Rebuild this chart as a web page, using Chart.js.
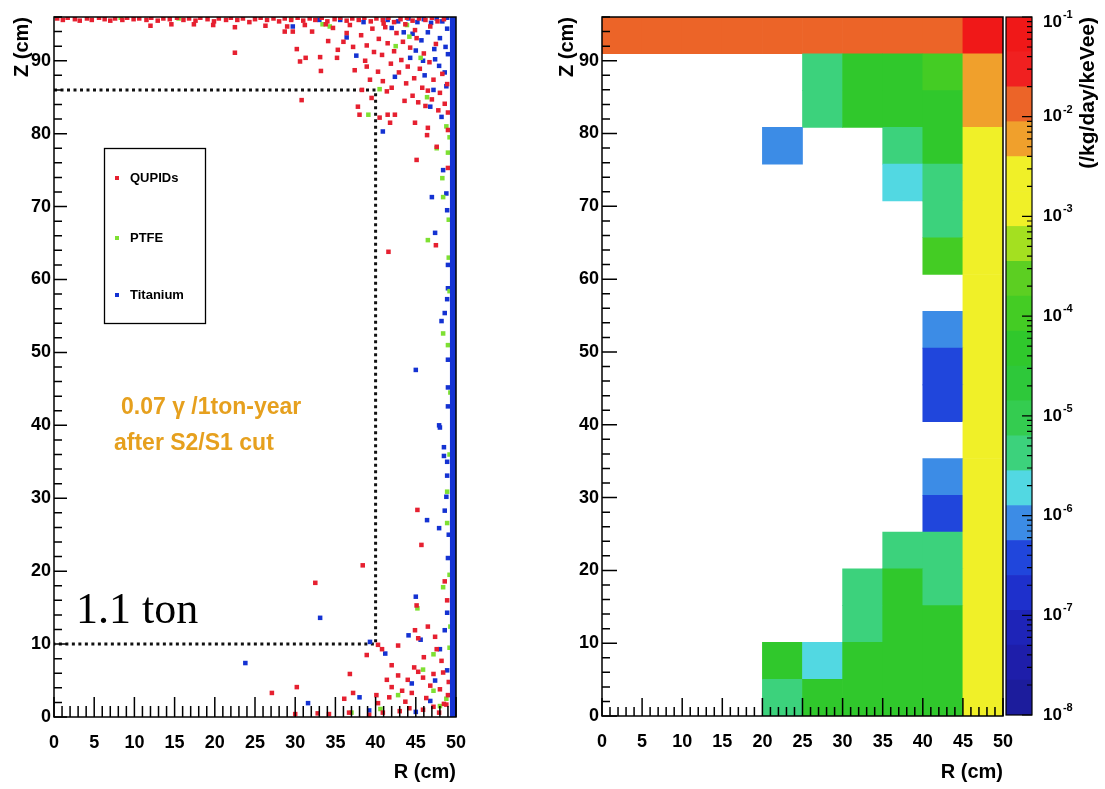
<!DOCTYPE html>
<html>
<head>
<meta charset="utf-8">
<script src="https://cdn.jsdelivr.net/npm/chart.js@4.4.0/dist/chart.umd.min.js"></script>
<style>
  html, body { margin: 0; padding: 0; background: #fff; }
  body { width: 1105px; height: 789px; position: relative; overflow: hidden; }
  canvas { position: absolute; top: 0; }
  #left { left: 0; }
  #right { left: 545px; }
  #scale { left: 990px; }
</style>
</head>
<body>
<canvas id="left" width="545" height="789"></canvas>
<canvas id="right" width="560" height="789"></canvas>
<canvas id="scale" width="115" height="789"></canvas>
<script>
// ---- left panel: gamma events surviving the S2/S1 cut, [R (cm), Z (cm)] ----
const qupidPts = [
  // top edge
  [0.4,95.8],[1.1,95.6],[1.7,95.9],[2.6,95.7],[3.2,95.5],[4.1,95.8],[4.7,95.6],[5.6,95.9],[6.3,95.7],[7.0,95.5],
  [7.6,95.8],[8.5,95.6],[9.1,95.9],[9.9,95.7],[10.6,95.8],[11.5,95.6],[12.1,95.9],[12.9,95.5],[13.6,95.8],[14.6,95.0],
  [14.4,95.7],[15.3,95.9],[16.1,95.6],[16.8,95.8],[17.6,95.5],[18.2,95.9],[19.1,95.7],[19.9,95.4],[20.5,95.8],[21.4,95.6],
  [22.0,95.9],[22.8,95.6],[23.5,95.8],[24.3,95.3],[25.0,95.7],[25.7,95.9],[26.5,95.6],[27.3,95.8],[28.0,95.4],[28.7,95.8],
  [29.5,95.6],[30.3,95.9],[31.0,95.5],[31.8,95.8],[32.5,95.6],[33.3,95.9],[34.0,95.4],[34.9,95.7],[35.6,95.9],[36.4,95.5],
  [37.1,95.8],[37.9,95.6],[38.6,95.9],[39.4,95.4],[40.1,95.8],[40.9,95.6],[41.6,95.9],[42.3,95.3],[43.1,95.7],[43.9,95.9],
  [44.6,95.5],[45.4,95.8],[46.2,95.6],[47.0,95.9],[47.7,95.4],[48.5,95.7],
  [12.0,94.8],[17.4,95.0],[19.8,94.9],[22.5,94.6],[26.3,94.8],[29.0,94.7],[31.2,94.9],[33.8,95.0],
  // upper corner
  [22.5,91.1],[28.7,94.0],[29.7,94.0],[30.2,91.6],[30.6,89.9],[31.3,90.4],[30.8,84.6],[33.1,90.5],[33.2,88.6],[32.1,94.0],
  [34.1,92.7],[34.7,94.5],[35.3,91.5],[35.2,90.4],[36.4,93.8],[36.0,92.6],[37.4,88.7],[37.8,83.7],[38.0,82.6],[38.3,86.0],
  [39.3,87.4],[38.9,89.2],[38.7,90.0],[40.3,88.5],[40.5,82.2],[41.5,82.6],[42.4,82.6],[41.8,81.5],[41.4,85.8],[44.9,81.5],
  [45.1,76.4],[46.5,80.8],[46.4,79.8],[47.6,78.2],[49.0,80.5],[49.0,75.3],[41.6,63.8],[47.5,64.7],
  [38.2,93.5],[38.9,92.1],[39.6,94.4],[39.8,91.2],[40.4,93.0],[40.8,90.8],[41.2,94.6],[41.5,92.4],[41.9,89.6],[42.3,91.3],
  [42.6,93.8],[42.9,88.4],[43.2,90.1],[43.4,92.6],[43.8,86.9],[44.0,89.2],[44.3,91.8],[44.6,85.2],[44.8,87.6],[45.1,93.1],
  [45.3,84.3],[45.5,88.9],[45.8,86.3],[46.0,91.0],[46.2,83.8],[46.5,85.9],[46.7,89.8],[47.0,84.7],[47.2,87.4],[47.5,92.3],
  [47.8,83.2],[48.0,85.6],[48.3,88.2],[48.6,84.1],[48.9,86.8],[49.0,82.9],[43.6,84.5],[42.0,86.3],[39.5,84.9],[40.9,87.2],
  [37.2,91.9],[36.8,94.9],[44.9,94.2],[46.8,94.7],[43.7,95.0],[41.0,95.1],
  // middle and bottom
  [45.2,28.4],[45.7,23.6],[38.4,20.8],[48.6,18.6],[32.5,18.4],[48.9,16.0],[45.1,15.3],[44.9,11.9],[46.5,12.4],[47.4,11.0],
  [45.3,10.8],[42.8,9.8],[40.3,9.9],[40.8,9.3],[38.9,8.5],[41.4,5.1],[42.0,7.1],[36.8,5.9],[42.0,4.1],[42.8,5.7],
  [44.0,5.1],[44.8,6.8],[45.3,6.2],[45.9,5.4],[44.5,3.3],[43.7,2.1],[47.6,9.3],[48.2,7.7],[47.2,5.9],[46.8,4.3],
  [48.0,3.8],[49.0,3.0],[48.5,1.8],[27.1,3.3],[30.2,4.1],[37.2,3.3],[36.1,2.5],[40.1,3.0],[40.3,1.9],[40.9,0.6],
  [30.0,0.4],[34.2,0.4],[36.7,0.6],[43.0,0.8],[45.9,1.0],[47.2,1.4],[48.8,1.7],[44.2,1.2],[46.3,2.6],[47.9,0.6],
  [49.1,4.8],[48.4,6.1],[46.0,8.2],[43.3,3.6],[41.7,2.7],[39.2,0.3],[32.8,0.5]
];
const ptfePts = [
  [34.3,94.7],[33.4,95.0],[39.1,82.6],[40.5,86.1],[43.9,94.9],[44.2,93.3],[46.4,85.0],[47.6,78.0],[48.3,73.9],[48.4,71.3],
  [46.5,65.4],[49.0,77.4],[49.2,79.5],[48.8,81.0],[48.4,52.6],[49.0,51.0],[48.9,30.9],[48.9,26.6],[49.2,19.5],[45.2,14.9],
  [48.4,17.8],[47.2,8.6],[45.9,6.5],[42.8,3.0],[47.2,3.6],[37.0,0.6],[40.6,1.1],[48.8,2.5],[48.0,1.5],
  [49.2,58.4],[49.1,63.0],[49.3,44.5],[49.2,36.0],[49.3,12.4],[49.2,9.5],[49.1,68.2],
  [8.3,95.9],[15.5,95.8],[29.5,95.8],[42.5,92.0],[45.6,90.4]
];
const titaniumPts = [
  [29.7,94.7],[36.4,93.2],[37.6,90.7],[40.9,80.3],[42.4,87.8],[44.3,90.4],[45.9,90.0],[47.2,86.0],[46.8,83.7],[48.2,82.3],
  [48.4,75.0],[47.0,71.3],[48.8,71.8],[47.4,66.4],[48.9,69.5],
  [45.0,47.6],[48.6,55.4],[48.2,54.3],[49.0,49.0],[47.9,40.0],[48.0,39.7],[48.5,37.0],[48.5,35.8],[48.9,35.0],[48.8,30.2],
  [48.6,28.3],[46.4,27.0],[47.9,25.9],[49.1,25.0],[45.0,16.5],
  [23.8,7.4],[33.1,13.6],[44.1,11.2],[45.6,10.6],[41.2,8.7],[39.3,10.3],[38.0,2.7],[31.6,1.9],[44.5,4.6],[46.8,2.2],
  [45.0,0.7],[47.4,5.0],[39.2,0.9],[48.0,9.3],[48.6,11.9],[48.9,6.4],
  [41.5,95.6],[42.8,95.4],[44.1,95.8],[45.2,95.3],[46.0,95.7],[46.9,95.2],[47.6,95.8],[48.3,95.4],[48.9,95.9],[44.6,93.7],
  [45.7,92.8],[46.5,93.9],[47.3,91.6],[48.0,93.1],[48.7,91.9],[48.9,94.4],[47.9,89.3],[48.6,88.4],[49.0,90.9],[48.8,86.5],
  [46.1,88.0],[47.4,90.2],[45.0,91.4],[43.5,93.9],[42.0,94.5],[38.5,95.3],[35.6,95.6],[33.0,95.6],
  [49.0,62.0],[48.9,57.3],[49.0,45.2],[49.0,42.6],[48.9,33.1],[49.0,21.8],[48.9,14.3],[49.0,58.8]
];
// events piled up on the titanium vessel wall (saturated band)
const titaniumWallR = [49.62, 49.62];
const titaniumWallZ = [0, 96];
// 1.1 ton fiducial volume
const fiducialR = [0, 40, 40, 0];
const fiducialZ = [86, 86, 10, 10];

// ---- right panel: rate map (/kg/day/keVee) ----
const rBinLabels = ['0-5', '5-10', '10-15', '15-20', '20-25', '25-30', '30-35', '35-40', '40-45', '45-50'];
const zMax = 96;
const zBins = 19;
const zEdges = Array.from({ length: zBins + 1 }, (_, k) => k * zMax / zBins);
// row 0 = lowest Z bin; columns follow rBinLabels
const rateRows = [
  [null, null, null, null, 4e-6, 5e-5, 5e-5, 6e-5, 6e-5, 2.2e-3],
  [null, null, null, null, 5e-5, 2e-6, 5e-5, 6e-5, 5e-5, 2.2e-3],
  [null, null, null, null, null, null, 4e-6, 6e-5, 5e-5, 2.2e-3],
  [null, null, null, null, null, null, 4e-6, 5e-5, 4e-6, 2.2e-3],
  [null, null, null, null, null, null, null, 4e-6, 4e-6, 2.2e-3],
  [null, null, null, null, null, null, null, null, 4e-7, 2.2e-3],
  [null, null, null, null, null, null, null, null, 8e-7, 2.2e-3],
  [null, null, null, null, null, null, null, null, null, 2.2e-3],
  [null, null, null, null, null, null, null, null, 4e-7, 2.2e-3],
  [null, null, null, null, null, null, null, null, 4e-7, 2.2e-3],
  [null, null, null, null, null, null, null, null, 8e-7, 2.2e-3],
  [null, null, null, null, null, null, null, null, null, 2.2e-3],
  [null, null, null, null, null, null, null, null, 1e-4, 2.2e-3],
  [null, null, null, null, null, null, null, null, 4.5e-6, 2.2e-3],
  [null, null, null, null, null, null, null, 2e-6, 4e-6, 2.2e-3],
  [null, null, null, null, 8e-7, null, null, 4e-6, 5e-5, 2.2e-3],
  [null, null, null, null, null, 4.5e-6, 5e-5, 4e-5, 6e-5, 5.5e-3],
  [null, null, null, null, null, 4.5e-6, 5e-5, 5e-5, 1.3e-4, 6e-3],
  [0.013, 0.012, 0.013, 0.014, 0.013, 0.015, 0.014, 0.016, 0.017, 0.055]
];
// contour levels (log10) and their colours
const paletteExp = [-8, -7.65, -7.3, -6.95, -6.6, -6.25, -5.9, -5.55, -5.2, -4.85, -4.5,
  -4.15, -3.8, -3.45, -3.1, -2.75, -2.4, -2.05, -1.7, -1.35, -1];
const paletteColors = ['#1c1c9c', '#1e1eaa', '#1e24b8', '#1e30cc', '#2046dc', '#3c8ce6', '#52d8e2',
  '#3cd27c', '#34cc50', '#2ec83a', '#30c82c', '#44cc24', '#5ccf22', '#a4e020', '#f0f028', '#f0f028',
  '#f0a02c', '#ec6428', '#f02020', '#f01818'];
const colorTicksExp = [-8, -7, -6, -5, -4, -3, -2, -1];

Chart.defaults.font.family = '"Liberation Sans", Arial, sans-serif';
Chart.defaults.color = '#000';

function toXY(pts) {
  return pts.map(p => ({ x: p[0], y: p[1] }));
}

function rateColor(v) {
  const e = Math.log10(v);
  for (let k = 0; k < paletteColors.length; k++) {
    if (e < paletteExp[k + 1]) return paletteColors[k];
  }
  return paletteColors[paletteColors.length - 1];
}

// frame + ROOT style inward ticks
const frameTicks = {
  id: 'frameTicks',
  afterDatasetsDraw(chart, args, o) {
    const { ctx, chartArea: a } = chart;
    const xs = chart.scales[o.xId], ys = chart.scales.y;
    ctx.save();
    ctx.strokeStyle = '#000';
    ctx.lineWidth = 1.5;
    ctx.strokeRect(a.left, a.top, a.right - a.left, a.bottom - a.top);
    ctx.beginPath();
    for (let v = xs.min; v <= xs.max; v += 1) {
      const px = xs.getPixelForValue(v);
      const len = v % 5 === 0 ? o.xMajor : o.xMinor;
      ctx.moveTo(px, a.bottom);
      ctx.lineTo(px, a.bottom - len);
    }
    for (let v = ys.min; v <= ys.max; v += 2) {
      const py = ys.getPixelForValue(v);
      const len = v % 10 === 0 ? o.yMajor : o.yMinor;
      ctx.moveTo(a.left, py);
      ctx.lineTo(a.left + len, py);
    }
    ctx.stroke();
    ctx.restore();
  }
};

// legend box and labels of the left panel
const leftNotes = {
  id: 'leftNotes',
  afterDatasetsDraw(chart) {
    const { ctx } = chart;
    ctx.save();
    ctx.strokeStyle = '#000';
    ctx.lineWidth = 1.3;
    ctx.strokeRect(104.5, 148.5, 101, 175);
    const items = [['QUPIDs', '#e62030', 178], ['PTFE', '#7ee032', 238], ['Titanium', '#1432d2', 295]];
    ctx.font = 'bold 13px "Liberation Sans"';
    ctx.textBaseline = 'middle';
    items.forEach(([t, c, y]) => {
      ctx.fillStyle = c;
      ctx.fillRect(115, y - 2, 4, 4);
      ctx.fillStyle = '#000';
      ctx.fillText(t, 130, y);
    });
    ctx.fillStyle = '#e6a01e';
    ctx.font = 'bold 23px "Liberation Sans"';
    ctx.fillText('0.07 \u03b3 /1ton-year', 121, 408);
    ctx.fillText('after S2/S1 cut', 114, 444);
    ctx.fillStyle = '#000';
    ctx.font = '44px "Liberation Serif"';
    ctx.textBaseline = 'alphabetic';
    ctx.fillText('1.1 ton', 76, 623);
    ctx.restore();
  }
};

// colour scale frame, ticks, labels, title
const scaleDecor = {
  id: 'scaleDecor',
  afterDatasetsDraw(chart) {
    const { ctx, chartArea: a } = chart;
    const ys = chart.scales.y;
    ctx.save();
    ctx.strokeStyle = '#000';
    ctx.lineWidth = 1.2;
    ctx.strokeRect(a.left, a.top, a.right - a.left, a.bottom - a.top);
    ctx.beginPath();
    colorTicksExp.forEach(e => {
      for (let m = 1; m < 10; m++) {
        const v = m * Math.pow(10, e);
        if (v > ys.max * 1.0001) break;
        const py = ys.getPixelForValue(v);
        const len = m === 1 ? 10 : 5;
        ctx.moveTo(a.right, py);
        ctx.lineTo(a.right - len, py);
      }
    });
    ctx.stroke();
    ctx.fillStyle = '#000';
    ctx.textBaseline = 'middle';
    ctx.textAlign = 'left';
    colorTicksExp.forEach(e => {
      const py = Math.max(ys.getPixelForValue(Math.pow(10, e)), a.top + 5);
      ctx.font = 'bold 17px "Liberation Sans"';
      ctx.fillText('10', a.right + 11, py);
      const w = ctx.measureText('10').width;
      ctx.font = 'bold 11px "Liberation Sans"';
      ctx.fillText(String(e), a.right + 12 + w, py - 7);
    });
    ctx.translate(98, a.top);
    ctx.rotate(-Math.PI / 2);
    ctx.font = 'bold 21px "Liberation Sans"';
    ctx.textAlign = 'right';
    ctx.fillText('(/kg/day/keVee)', 0, 0);
    ctx.restore();
  }
};

const tickFont = { size: 18, weight: 'bold' };
const titleFont = { size: 20, weight: 'bold' };

function rAxis(h) {
  return {
    type: 'linear', axis: 'x', position: 'bottom', min: 0, max: 50, offset: false,
    ticks: { stepSize: 5, padding: 15, font: tickFont, maxRotation: 0 },
    grid: { display: false, drawTicks: false, offset: false }, border: { display: false },
    title: { display: true, text: 'R (cm)', align: 'end', font: titleFont, padding: { top: 0, bottom: 5 } },
    afterFit: s => { s.height = h; }
  };
}
function zAxis(w) {
  return {
    type: 'linear', min: 0, max: 96,
    ticks: { stepSize: 10, includeBounds: false, padding: 3, font: tickFont },
    grid: { display: false, drawTicks: false }, border: { display: false },
    title: { display: true, text: 'Z (cm)', align: 'end', font: titleFont, padding: { top: 10, bottom: 0 } },
    afterFit: s => { s.width = w; }
  };
}

new Chart(document.getElementById('left'), {
  type: 'scatter',
  data: {
    datasets: [
      { label: 'Titanium wall', data: titaniumWallR.map((r, k) => ({ x: r, y: titaniumWallZ[k] })),
        showLine: true, borderColor: '#1432d2', borderWidth: 6, pointRadius: 0, order: 0 },
      { label: 'QUPIDs', data: toXY(qupidPts), backgroundColor: '#e62030', borderWidth: 0,
        pointStyle: 'rect', pointRadius: 3.2, order: 1 },
      { label: 'PTFE', data: toXY(ptfePts), backgroundColor: '#7ee032', borderWidth: 0,
        pointStyle: 'rect', pointRadius: 3.2, order: 2 },
      { label: 'Titanium', data: toXY(titaniumPts), backgroundColor: '#1432d2', borderWidth: 0,
        pointStyle: 'rect', pointRadius: 3.2, order: 3 },
      { label: 'fiducial', data: fiducialR.map((r, k) => ({ x: r, y: fiducialZ[k] })),
        showLine: true, borderColor: '#111', borderWidth: 3, borderDash: [3, 3.5], pointRadius: 0, order: 4 }
    ]
  },
  options: {
    responsive: false,
    animation: false,
    layout: { padding: { top: 17, right: 89, left: 0, bottom: 0 } },
    plugins: {
      legend: { display: false },
      tooltip: { enabled: false },
      frameTicks: { xId: 'x', xMajor: 20, xMinor: 11, yMajor: 13, yMinor: 8 }
    },
    scales: { x: rAxis(72), y: zAxis(54) }
  },
  plugins: [frameTicks, leftNotes]
});

const heatSets = rateRows.map((row, j) => ({
  label: 'Z bin ' + j,
  data: row.map(v => (v == null ? null : [zEdges[j], zEdges[j + 1]])),
  backgroundColor: row.map(v => (v == null ? 'rgba(0,0,0,0)' : rateColor(v))),
  borderWidth: 0,
  barPercentage: 1,
  categoryPercentage: 1,
  grouped: false
}));

new Chart(document.getElementById('right'), {
  type: 'bar',
  data: { labels: rBinLabels, datasets: heatSets },
  options: {
    responsive: false,
    animation: false,
    layout: { padding: { top: 17, right: 102, left: 0, bottom: 0 } },
    plugins: {
      legend: { display: false },
      tooltip: { enabled: false },
      frameTicks: { xId: 'xr', xMajor: 18, xMinor: 9, yMajor: 15, yMinor: 8 }
    },
    scales: {
      x: { type: 'category', display: false, offset: true },
      xr: rAxis(73),
      y: zAxis(57)
    }
  },
  plugins: [frameTicks]
});

const bandSets = paletteColors.map((c, k) => ({
  label: 'level ' + k,
  data: [[Math.pow(10, paletteExp[k]), Math.pow(10, paletteExp[k + 1])]],
  backgroundColor: c,
  borderWidth: 0,
  barPercentage: 1,
  categoryPercentage: 1,
  grouped: false
}));

new Chart(document.getElementById('scale'), {
  type: 'bar',
  data: { labels: ['rate'], datasets: bandSets },
  options: {
    responsive: false,
    animation: false,
    layout: { padding: { top: 17, right: 73, left: 16, bottom: 74 } },
    plugins: { legend: { display: false }, tooltip: { enabled: false } },
    scales: {
      x: { type: 'category', display: false, offset: true },
      y: { type: 'logarithmic', display: false, min: 1e-8, max: 1e-1 }
    }
  },
  plugins: [scaleDecor]
});
</script>
</body>
</html>
